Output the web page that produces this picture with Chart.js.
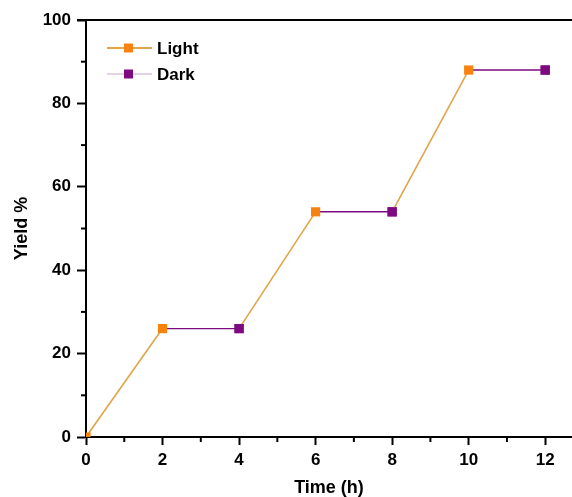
<!DOCTYPE html>
<html>
<head>
<meta charset="utf-8">
<script src="https://cdn.jsdelivr.net/npm/chart.js"></script>
<style>
  html, body { margin: 0; padding: 0; background: #fff; }
  #wrap { width: 572px; height: 497px; }
</style>
</head>
<body>
<div id="wrap"><canvas id="yieldChart"></canvas></div>
<script>
// Données
const times = [0, 2, 4, 6, 8, 10, 12];
const yields = [0, 26, 26, 54, 54, 88, 88];
const seriesNames = ["Light", "Dark"];
const xTicks = [0, 2, 4, 6, 8, 10, 12];
const yTicks = [0, 20, 40, 60, 80, 100];

const ORANGE = "#f7820f";
const ORANGE_LINE = "#e0a54a";
const PURPLE = "#7d0a80";

// Light = montée (0-2, 4-6, 8-10), Dark = palier (2-4, 6-8, 10-12)
function buildSegments(startIdx) {
    const pts = [];
    for (let i = startIdx; i + 1 < times.length; i += 2) {
        if (pts.length) pts.push({ x: (times[i - 1] + times[i]) / 2, y: null });
        pts.push({ x: times[i], y: yields[i] });
        pts.push({ x: times[i + 1], y: yields[i + 1] });
    }
    return pts;
}
const lightData = buildSegments(0);
const darkData = buildSegments(1);

// marqueurs Light seulement en fin de montée (et au point 0)
const lightRadius = lightData.map((p, i) => (p.y === null ? 0 : (i === 0 || lightData[i + 1] === undefined || lightData[i + 1].y === null) ? 6.5 : 0));
const darkRadius = darkData.map((p, i) => (p.y === null ? 0 : (darkData[i + 1] === undefined || darkData[i + 1].y === null) ? 6.5 : 0));

// légende façon Origin : trait + carré, et marqueurs Dark repassés au-dessus
const legendPlugin = {
    id: "originLegend",
    afterDatasetsDraw(chart) {
        const ctx = chart.ctx;
        ctx.save();
        ctx.beginPath();
        ctx.rect(chart.chartArea.left, chart.chartArea.top, chart.chartArea.width, chart.chartArea.height);
        ctx.clip();
        chart.getDatasetMeta(1).data.forEach(pt => pt.draw(ctx, chart.chartArea));
        ctx.restore();

        const rows = [
            { label: seriesNames[0], line: ORANGE_LINE, mark: ORANGE, lw: 2, y: 48 },
            { label: seriesNames[1], line: "#c9a6cc", mark: PURPLE, lw: 1, y: 74 }
        ];
        ctx.save();
        rows.forEach(r => {
            ctx.strokeStyle = r.line;
            ctx.lineWidth = r.lw;
            ctx.beginPath();
            ctx.moveTo(107, r.y);
            ctx.lineTo(152, r.y);
            ctx.stroke();
            ctx.fillStyle = r.mark;
            ctx.fillRect(124, r.y - 4.5, 9, 9);
            ctx.fillStyle = "#000";
            ctx.font = "bold 17px 'Liberation Sans', Arial, sans-serif";
            ctx.textBaseline = "middle";
            ctx.fillText(r.label, 157, r.y + 1);
        });
        ctx.restore();
    }
};

// petites graduations mineures + bord supérieur
const minorTicks = {
    id: "minorTicks",
    afterDraw(chart) {
        const { ctx, scales } = chart;
        const xs = scales.x, ys = scales.y;
        ctx.save();
        ctx.strokeStyle = "#000";
        ctx.lineWidth = 2;
        for (let v = 1; v <= 11; v += 2) {
            const px = xs.getPixelForValue(v);
            ctx.beginPath();
            ctx.moveTo(px, ys.bottom);
            ctx.lineTo(px, ys.bottom + 5);
            ctx.stroke();
        }
        for (let v = 10; v <= 90; v += 20) {
            const py = ys.getPixelForValue(v);
            ctx.beginPath();
            ctx.moveTo(xs.left, py);
            ctx.lineTo(xs.left - 5, py);
            ctx.stroke();
        }
        ctx.beginPath();
        ctx.moveTo(xs.left - 9, ys.top);
        ctx.lineTo(chart.width, ys.top);
        ctx.stroke();
        ctx.restore();
    }
};

const tickFont = { family: "'Liberation Sans', Arial, sans-serif", weight: "bold", size: 17 };
const titleFont = { family: "'Liberation Sans', Arial, sans-serif", weight: "bold", size: 18, lineHeight: 1 };

new Chart(document.getElementById("yieldChart").getContext("2d"), {
    type: "line",
    data: {
        datasets: [
            {
                label: seriesNames[0],
                data: lightData,
                borderColor: ORANGE_LINE,
                borderWidth: 1.6,
                pointStyle: "rect",
                pointRadius: lightRadius,
                pointBackgroundColor: ORANGE,
                pointBorderColor: ORANGE,
                pointBorderWidth: 0,
                spanGaps: false,
                tension: 0
            },
            {
                label: seriesNames[1],
                data: darkData,
                borderColor: PURPLE,
                borderWidth: 1.4,
                pointStyle: "rect",
                pointRadius: darkRadius,
                pointBackgroundColor: PURPLE,
                pointBorderColor: PURPLE,
                pointBorderWidth: 0,
                spanGaps: false,
                tension: 0
            }
        ]
    },
    options: {
        responsive: true,
        maintainAspectRatio: false,
        animation: false,
        layout: { autoPadding: false, padding: { top: 20, right: 0, left: 0, bottom: 0 } },
        plugins: {
            legend: { display: false },
            tooltip: { enabled: false }
        },
        scales: {
            x: {
                type: "linear",
                min: 0,
                max: 12.7,
                afterBuildTicks: s => { s.ticks = xTicks.map(v => ({ value: v })); },
                afterFit: s => { s.height = 60; s.paddingLeft = 0; s.paddingRight = 0; },
                border: { color: "#000", width: 2 },
                grid: { drawOnChartArea: false, tickLength: 8, tickWidth: 2, tickColor: "#000" },
                ticks: { color: "#000", font: tickFont, padding: 5, maxRotation: 0 },
                title: { display: true, text: "Time (h)", color: "#000", font: titleFont, padding: { top: 0, bottom: 0 } }
            },
            y: {
                min: 0,
                max: 100,
                afterBuildTicks: s => { s.ticks = yTicks.map(v => ({ value: v })); },
                afterFit: s => { s.width = 86; s.paddingTop = 0; s.paddingBottom = 0; },
                border: { color: "#000", width: 2 },
                grid: { drawOnChartArea: false, tickLength: 9, tickWidth: 2, tickColor: "#000" },
                ticks: { color: "#000", font: tickFont, padding: 6 },
                title: { display: true, text: "Yield %", color: "#000", font: titleFont, padding: { top: 13, bottom: 0 } }
            }
        }
    },
    plugins: [legendPlugin, minorTicks]
});
</script>
</body>
</html>
